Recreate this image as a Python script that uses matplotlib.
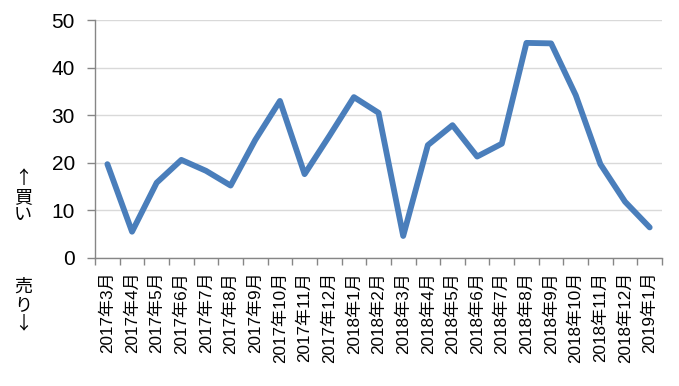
import matplotlib
matplotlib.use("Agg")
import matplotlib.pyplot as plt
import numpy as np

plt.rcParams['font.family'] = ['Liberation Sans', 'Noto Sans CJK JP', 'DejaVu Sans']

months = ["2017年3月", "2017年4月", "2017年5月", "2017年6月", "2017年7月", "2017年8月",
          "2017年9月", "2017年10月", "2017年11月", "2017年12月", "2018年1月", "2018年2月",
          "2018年3月", "2018年4月", "2018年5月", "2018年6月", "2018年7月", "2018年8月",
          "2018年9月", "2018年10月", "2018年11月", "2018年12月", "2019年1月"]
values = [19.7, 5.5, 15.8, 20.6, 18.3, 15.2, 24.8, 33.0, 17.6, 25.6, 33.8, 30.5,
          4.6, 23.7, 27.9, 21.3, 24.0, 45.2, 45.1, 34.2, 19.7, 11.8, 6.4]
yticks = [0, 10, 20, 30, 40, 50]

fig = plt.figure(figsize=(6.79, 3.86), dpi=100)
ax = fig.add_axes([0.140, 0.332, 0.835, 0.616])

x = np.arange(len(months))
ax.plot(x, values, color="#4A7EBB", linewidth=4.2, solid_joinstyle="round",
        solid_capstyle="round", zorder=3)

ax.set_xlim(-0.5, len(months) - 0.5)
ax.set_ylim(0, 50)
ax.set_yticks(yticks)
ax.set_yticklabels([str(v) for v in yticks], fontsize=15)
ax.yaxis.grid(True, color="#D9D9D9", linewidth=1.0)
ax.set_axisbelow(True)

ax.set_xticks(x)
ax.set_xticklabels(months, rotation=90, fontsize=12.3)
ax.tick_params(axis="x", which="major", length=0, pad=10)
ax.set_xticks(np.arange(len(months) + 1) - 0.5, minor=True)
ax.tick_params(axis="x", which="minor", length=5, color="#868686", width=1)
ax.tick_params(axis="y", length=5.5, color="#868686", width=1, pad=9)

for s in ["top", "right"]:
    ax.spines[s].set_visible(False)
for s in ["left", "bottom"]:
    ax.spines[s].set_color("#868686")
    ax.spines[s].set_linewidth(1)

fig.text(23 / 679, 1 - 197 / 386, "↑\n買\nい", ha="center", va="center",
         fontsize=13, linespacing=1.0, family=['Noto Sans CJK JP', 'DejaVu Sans'])
fig.text(23 / 679, 1 - 305 / 386, "売\nり\n↓", ha="center", va="center",
         fontsize=13, linespacing=1.0, family=['Noto Sans CJK JP', 'DejaVu Sans'])

fig.savefig("out.png", dpi=100)
